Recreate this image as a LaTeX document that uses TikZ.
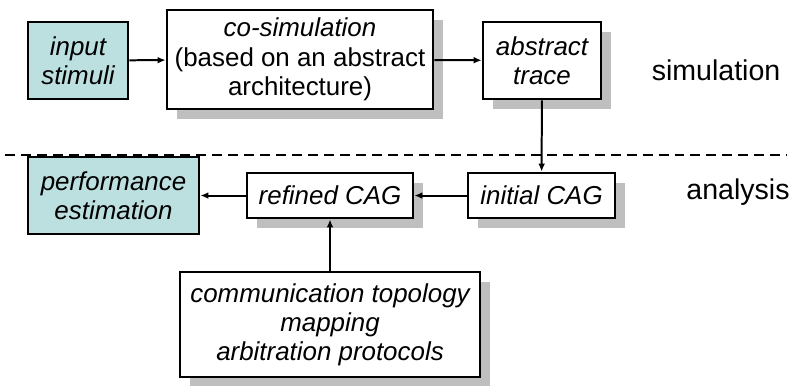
\documentclass[tikz,border=0pt]{standalone}
\usepackage{fontspec}
\setmainfont{Liberation Sans}
\usetikzlibrary{arrows.meta, calc, positioning, shadows}

\definecolor{stimcol}{RGB}{188,224,224}

\begin{document}
\begin{tikzpicture}[auto]
			\tikzstyle{block}=[draw, line width=2pt, fill=white, inner sep=0pt, align=center,
				font=\fontsize{19.5}{22}\selectfont,
				drop shadow={shadow xshift=0.26cm, shadow yshift=-0.26cm, opacity=1, fill=gray!50}]
			\tikzstyle{ioblock}=[draw, line width=2pt, fill=stimcol, inner sep=0pt, align=center,
				font=\fontsize{19.5}{22}\selectfont\itshape]
			\tikzstyle{phase}=[font=\fontsize{21.5}{23}\selectfont]
			\tikzstyle{flow}=[-{Latex[length=6pt,width=5pt]}, line width=1.5pt]
			\useasboundingbox (0,0) rectangle (20.98,-10.186);
			
			% simulation part
			\node[ioblock, minimum width=2.646cm, minimum height=2.037cm] (stim) at (2.064,-1.601) {input\\stimuli};
			\node[block, minimum width=7.038cm, minimum height=2.619cm] (cosim) at (7.937,-1.574) {\textit{co-simulation}\\(based on an abstract\\architecture)};
			\node[block, minimum width=3.122cm, minimum height=2.037cm] (trace) at (14.340,-1.601) {\itshape abstract\\\itshape trace};
			\node[phase] (sim) at (18.944,-1.852) {simulation};
			
			% separation line
			\coordinate (sepl) at (0.132,-4.101);
			\coordinate (sepr) at (20.82,-4.101);
			\draw[line width=1.5pt, dash pattern=on 7.5pt off 4.5pt] (sepl) -- (sepr);
			
			% analysis part
			\node[block, minimum width=3.889cm, minimum height=1.191cm] (initial) at (14.327,-5.173) {\itshape initial CAG};
			\node[block, minimum width=4.392cm, minimum height=1.191cm] (refined) at (8.731,-5.173) {\itshape refined CAG};
			\node[ioblock, minimum width=4.524cm, minimum height=2.037cm] (perf) at (3.003,-5.173) {performance\\estimation};
			\node[phase] (ana) at (19.526,-5.080) {analysis};
			\node[block, minimum width=7.937cm, minimum height=2.778cm] (arch) at (8.731,-8.586) {\itshape communication topology\\\itshape mapping\\\itshape arbitration protocols};
			
			% edges
			\path[flow] (stim) edge (cosim);
			\path[flow] (cosim) edge (trace);
			\path[flow] (trace) edge (initial);
			\path[flow] (initial) edge (refined);
			\path[flow] (refined) edge (perf);
			\path[flow] (arch) edge (refined);
		\end{tikzpicture}
\end{document}
